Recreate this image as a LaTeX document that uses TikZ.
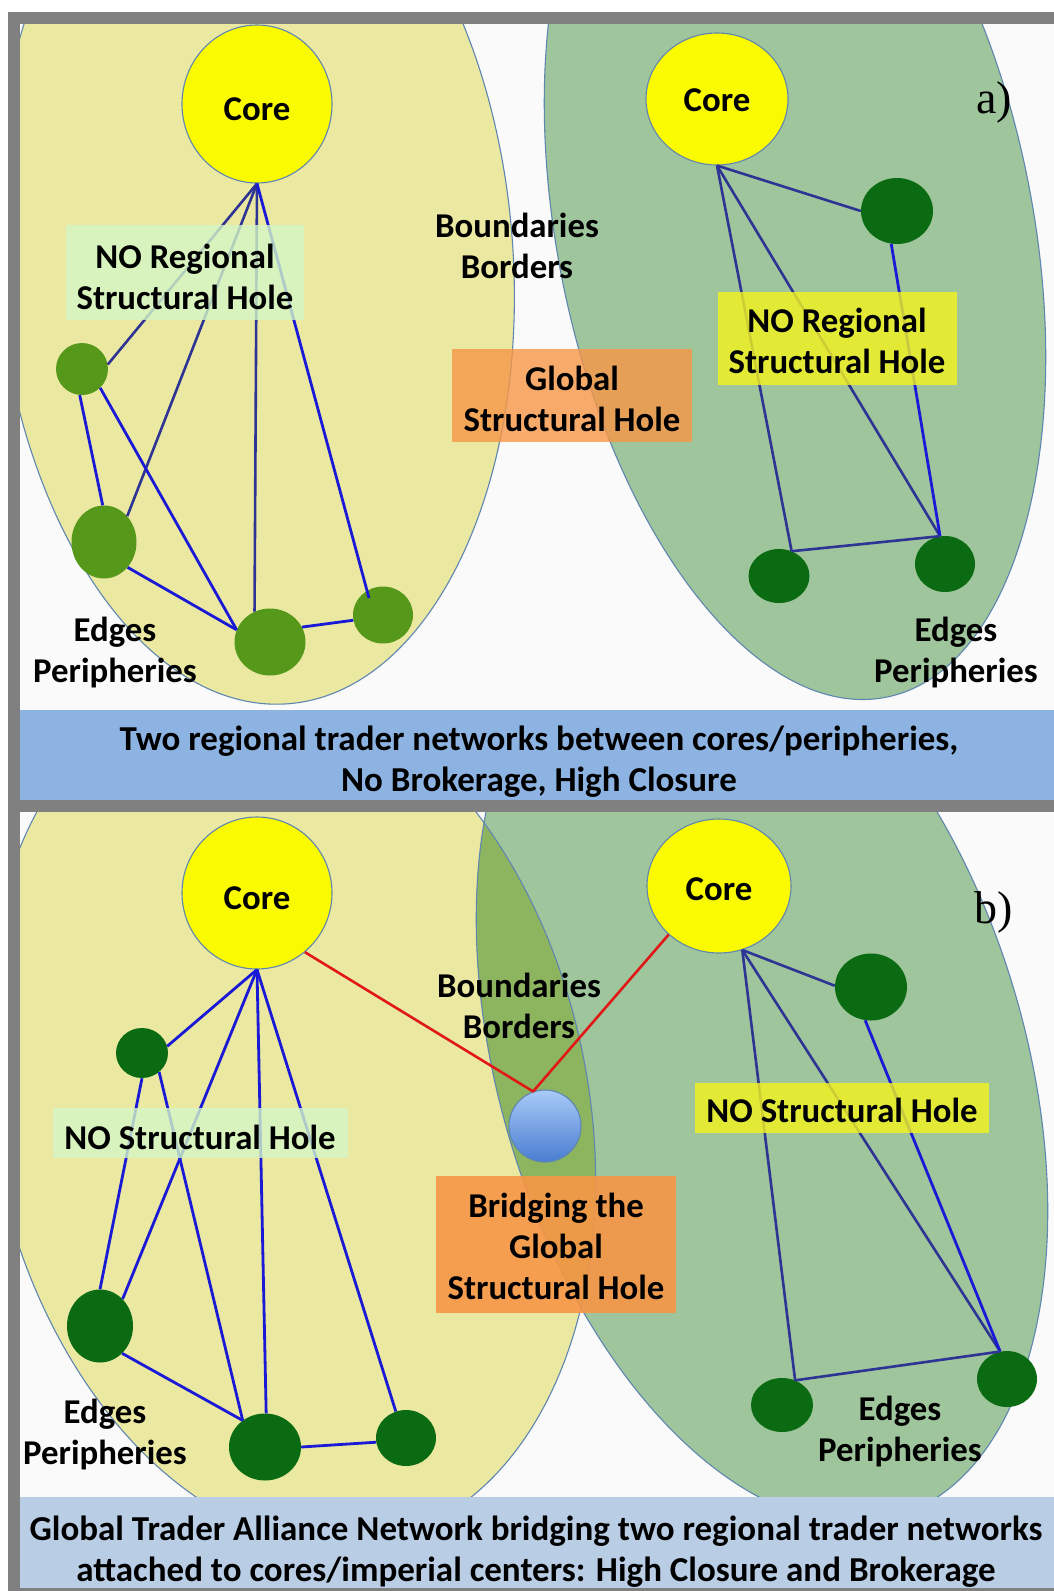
\documentclass[tikz,border=0pt]{standalone}
\usepackage{fontspec}
\setmainfont{Carlito}
\newfontfamily\letterfont{Liberation Serif}
\usetikzlibrary{shapes.geometric}

\definecolor{framegray}{HTML}{808080}
\definecolor{paper}{HTML}{FAFAFA}
\definecolor{sandfill}{HTML}{EBE8A2}
\definecolor{sagefill}{HTML}{9FC59C}
\definecolor{lensfill}{HTML}{8DB55F}
\definecolor{rimblue}{HTML}{5F86B0}
\definecolor{coreyellow}{HTML}{FAFA00}
\definecolor{leaflight}{HTML}{56981A}
\definecolor{leafdark}{HTML}{0B6B12}
\definecolor{linkblue}{HTML}{1A1AD6}
\definecolor{linknavy}{HTML}{2E3494}
\definecolor{linkred}{HTML}{E01818}
\definecolor{mintbox}{HTML}{D4F6C6}
\definecolor{lemonbox}{HTML}{F4F41C}
\definecolor{orangebox}{HTML}{F79646}
\definecolor{bandA}{HTML}{8DB3E2}
\definecolor{bandB}{HTML}{B9CDE5}
\definecolor{ballhi}{HTML}{A8CAF6}
\definecolor{balllo}{HTML}{4A7ED2}

\tikzset{
  every node/.style={font=\fontsize{34.8}{41}\selectfont\bfseries, align=center, inner sep=0pt},
  region/.style={draw=rimblue, line width=1.1pt},
  hub/.style={ellipse, draw=rimblue, line width=1.1pt, fill=coreyellow},
  leafA/.style={ellipse, fill=leaflight},
  leafB/.style={ellipse, fill=leafdark},
  tie/.style={draw=linkblue, line width=2.8pt},
  tiedark/.style={draw=linknavy, line width=2.6pt},
  redtie/.style={draw=linkred, line width=2.6pt, line join=round},
  tag/.style={fill opacity=0.8},
  caption/.style={font=\fontsize{35}{41}\selectfont\bfseries},
  letter/.style={font=\letterfont\fontsize{46}{46}\selectfont}
}
% strut that lowers a one-line label inside its node
\newcommand{\lowerby}[1]{\rule{0pt}{#1}}

\begin{document}
\begin{tikzpicture}[x=1pt, y=-1pt]
\useasboundingbox (0,0) rectangle (1054,1591);
\fill[white] (0,0) rectangle (1054,1591);

% outer frame and separators
\fill[framegray] (8,12) rectangle (1054,24);
\fill[framegray] (8,12) rectangle (20,1591);
\fill[framegray] (20,800) rectangle (1054,812);
\fill[framegray] (20,1588) rectangle (1054,1591);

% ---------------- panel a ----------------
\begin{scope}
\clip (20,24) rectangle (1054,710);
\fill[paper] (20,24) rectangle (1054,710);
\path[region, fill=sandfill, rotate around={4.2:(255,259)}] (255,259) ellipse [x radius=258, y radius=446];
\path[region, fill=sagefill, rotate around={11:(795,230)}] (795,230) ellipse [x radius=238, y radius=476];

\node[hub, minimum width=150, minimum height=158] (coreAL) at (257,104) {\lowerby{32.5pt}Core};
\node[hub, minimum width=142, minimum height=132] (coreAR) at (717,99) {\lowerby{24.5pt}Core};

\node[leafA, minimum width=52, minimum height=52] (n1) at (82,369) {};
\node[leafA, minimum width=65, minimum height=73] (n2) at (104,542) {};
\node[leafA, minimum width=71, minimum height=67] (n3) at (270,642) {};
\node[leafA, minimum width=60, minimum height=57] (n4) at (383,615) {};
\coordinate (n4tip) at (369,598);

\node[leafB, minimum width=72, minimum height=66] (r1) at (897,211) {};
\node[leafB, minimum width=61, minimum height=54] (r2) at (779,576) {};
\node[leafB, minimum width=60, minimum height=56] (r3) at (945,564) {};

\draw[tiedark] (coreAL.south) -- (n1.10);
\draw[tiedark] (coreAL.south) -- (n2.48);
\draw[tiedark] (coreAL.south) -- (n3.117);
\draw[tie] (coreAL.south) -- (n4tip);
\draw[tie] (n1.265) -- (n2.92);
\draw[tie] (n1.-46) -- (n3.160);
\draw[tie] (n2.-47) -- (n3.160);
\draw[tie] (n3.25) -- (n4.190);

\draw[tiedark] (coreAR.south) -- (r1.west);
\draw[tiedark] (coreAR.south) -- (r2.63);
\draw[tiedark] (coreAR.south) -- (r3.100);
\draw[tie] (r1.-100) -- (r3.100);
\draw[tiedark] (r2.63) -- (r3.100);

\node[tag, fill=mintbox, minimum width=238, minimum height=95] (holeAL) at (185,272) {};
\node[tag, fill=lemonbox, minimum width=239, minimum height=93] (holeAR) at (837,338) {};
\node[tag, fill=orangebox, minimum width=240, minimum height=93] (gapA) at (572,395) {};
\node (holeALtext) at (185,277) {NO Regional\\Structural Hole};
\node (holeARtext) at (837,341) {NO Regional\\Structural Hole};
\node (gapAtext) at (572,399) {Global\\Structural Hole};
\node (bordA) at (517,246) {Boundaries\\Borders};
\node (edgeAL) at (115,653) {Edges\\Peripheries};
\node (edgeAR) at (956,653) {Edges\\Peripheries};
\node[letter] (tagA) at (994,102) {a)};
\end{scope}

\fill[bandA] (20,710) rectangle (1054,800);
\node[caption] (capA) at (539,762) {Two regional trader networks between cores/peripheries,\\No Brokerage, High Closure};

% ---------------- panel b ----------------
\begin{scope}
\clip (20,812) rectangle (1054,1497);
\fill[paper] (20,812) rectangle (1054,1497);
\path[fill=sandfill, rotate around={12:(290,1110)}] (290,1110) ellipse [x radius=298, y radius=440];
\path[fill=sagefill, rotate around={16.6:(762,1065)}] (762,1065) ellipse [x radius=263, y radius=471];
\begin{scope}
  \clip[rotate around={12:(290,1110)}] (290,1110) ellipse [x radius=298, y radius=440];
  \fill[lensfill, rotate around={16.6:(762,1065)}] (762,1065) ellipse [x radius=263, y radius=471];
\end{scope}
\path[region, rotate around={12:(290,1110)}] (290,1110) ellipse [x radius=298, y radius=440];
\path[region, rotate around={16.6:(762,1065)}] (762,1065) ellipse [x radius=263, y radius=471];

\node[hub, minimum width=150, minimum height=152] (coreBL) at (257,893) {\lowerby{32.5pt}Core};
\node[hub, minimum width=144, minimum height=134] (coreBR) at (719,886) {\lowerby{28.5pt}Core};

\node[leafB, minimum width=52, minimum height=50] (m1) at (142,1053) {};
\node[leafB, minimum width=66, minimum height=73] (m2) at (100,1326) {};
\node[leafB, minimum width=72, minimum height=67] (m3) at (265,1447) {};
\node[leafB, minimum width=60, minimum height=56] (m4) at (406,1438) {};

\node[leafB, minimum width=72, minimum height=67] (k1) at (871,987) {};
\node[leafB, minimum width=62, minimum height=54] (k2) at (782,1405) {};
\node[leafB, minimum width=60, minimum height=56] (k3) at (1007,1379) {};

\node[ellipse, draw=rimblue, line width=1.1pt, top color=ballhi, bottom color=balllo, minimum size=72] (bridge) at (545,1126) {};

\draw[tie] (coreBL.south) -- (m1.15);
\draw[tie] (coreBL.south) -- (m2.50);
\draw[tie] (coreBL.south) -- (m3.88);
\draw[tie] (coreBL.south) -- (m4.111);
\draw[tie] (m1.south) -- (m2.north);
\draw[tie] (m1.-48) -- (m3.130);
\draw[tie] (m2.-51) -- (m3.130);
\draw[tie] (m3.0) -- (m4.188);

\draw[tiedark] (coreBR.-70) -- (k1.178);
\draw[tiedark] (coreBR.-70) -- (k2.62);
\draw[tiedark] (coreBR.-70) -- (k3.104);
\draw[tie] (k1.-100) -- (k3.104);
\draw[tiedark] (k2.62) -- (k3.104);

\draw[redtie] (coreBL.-51) -- (bridge.109) -- (coreBR.224);

\node[tag, fill=mintbox, minimum width=295, minimum height=50] (holeBL) at (200,1133) {};
\node[tag, fill=lemonbox, minimum width=294, minimum height=50] (holeBR) at (842,1108) {};
\node[tag, fill=orangebox, fill opacity=0.9, minimum width=240, minimum height=137] (gapB) at (556,1244) {};
\node (holeBLtext) at (200,1137) {NO Structural Hole};
\node (holeBRtext) at (842,1110) {NO Structural Hole};
\node (gapBtext) at (556,1246) {Bridging the\\Global\\Structural Hole};
\node (bordB) at (519,1006) {Boundaries\\Borders};
\node (edgeBL) at (105,1435) {Edges\\Peripheries};
\node (edgeBR) at (900,1432) {Edges\\Peripheries};
\node[letter] (tagB) at (994,912) {b)};
\end{scope}

\fill[bandB] (20,1497) rectangle (1054,1588);
\node[caption] (capB) at (536,1552) {Global Trader Alliance Network bridging two regional trader networks\\attached to cores/imperial centers: High Closure and Brokerage};
\end{tikzpicture}
\end{document}
